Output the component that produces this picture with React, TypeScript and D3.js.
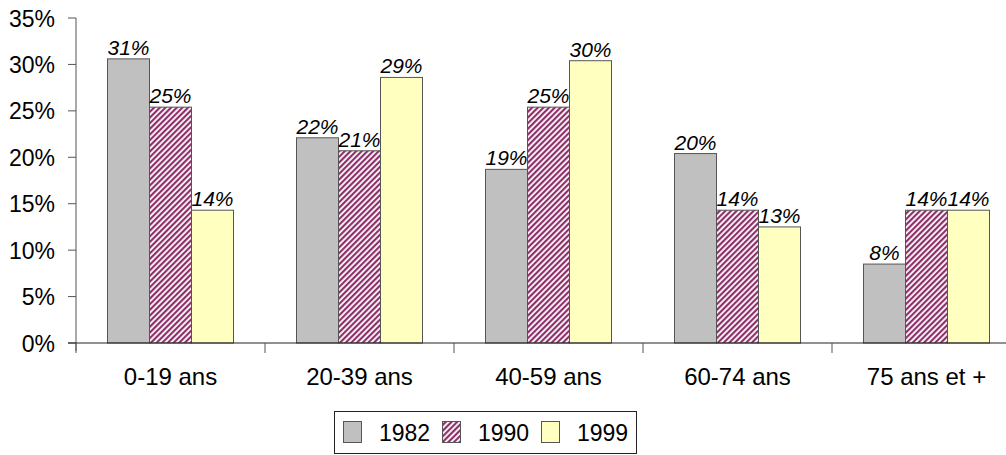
import React from 'react';
import * as d3 from 'd3';

const categories = ['0-19 ans', '20-39 ans', '40-59 ans', '60-74 ans', '75 ans et +'];
const years = ['1982', '1990', '1999'];
const values1982 = [30.6, 22.1, 18.7, 20.4, 8.5];
const values1990 = [25.4, 20.7, 25.4, 14.3, 14.3];
const values1999 = [14.3, 28.6, 30.4, 12.5, 14.3];
const labels1982 = ['31%', '22%', '19%', '20%', '8%'];
const labels1990 = ['25%', '21%', '25%', '14%', '14%'];
const labels1999 = ['14%', '29%', '30%', '13%', '14%'];
const yTicks = [0, 5, 10, 15, 20, 25, 30, 35];

const series = [values1982, values1990, values1999];
const seriesLabels = [labels1982, labels1990, labels1999];
const fills = ['#C0C0C0', 'url(#hatch)', '#FFFFC0'];

const W = 1006;
const H = 455;
const left = 76;
const top = 18;
const bottom = 343;

const App: React.FC = () => {
    const x = d3.scaleBand<string>()
        .domain(categories)
        .range([left, left + 189 * 5])
        .paddingInner(1 / 3)
        .paddingOuter(1 / 6);
    const xs = d3.scaleBand<string>().domain(years).range([0, x.bandwidth()]);
    const y = d3.scaleLinear().domain([0, 35]).range([bottom, top]);
    const step = x.step();
    const font = 'Liberation Sans, Arial, sans-serif';

    return (
        <svg width={W} height={H} style={{ position: 'absolute', left: 0, top: 0 }} fontFamily={font}>
            <defs>
                <pattern id="hatch" width="4" height="4" patternUnits="userSpaceOnUse" patternTransform="rotate(45)">
                    <rect width="4" height="4" fill="#fff" />
                    <rect width="2.2" height="4" fill="#8E2F6A" />
                </pattern>
            </defs>

            {/* bars */}
            {categories.map((c, i) => (
                <g key={c} transform={`translate(${x(c)},0)`}>
                    {years.map((yr, s) => (
                        <g key={yr}>
                            <rect
                                x={xs(yr)}
                                y={y(series[s][i])}
                                width={xs.bandwidth()}
                                height={bottom - y(series[s][i])}
                                fill={fills[s]}
                                stroke="#555"
                                strokeWidth={1}
                            />
                            <text
                                x={(xs(yr) as number) + xs.bandwidth() / 2}
                                y={y(series[s][i]) - 4}
                                textAnchor="middle"
                                fontSize={21}
                                fontStyle="italic"
                            >{seriesLabels[s][i]}</text>
                        </g>
                    ))}
                </g>
            ))}

            {/* y axis */}
            <line x1={left} x2={left} y1={top} y2={bottom + 8} stroke="#555" />
            {yTicks.map(t => (
                <g key={t}>
                    <line x1={left - 8} x2={left} y1={y(t)} y2={y(t)} stroke="#555" />
                    <text x={55} y={y(t) + 8.5} textAnchor="end" fontSize={23}>{t}%</text>
                </g>
            ))}

            {/* x axis */}
            <line x1={left - 8} x2={W} y1={bottom} y2={bottom} stroke="#222" />
            {d3.range(categories.length + 1).map(i => (
                <line key={i} x1={left + i * step} x2={left + i * step} y1={bottom} y2={bottom + 10} stroke="#555" />
            ))}
            {categories.map(c => (
                <text key={c} x={(x(c) as number) + x.bandwidth() / 2} y={385} textAnchor="middle" fontSize={24}>{c}</text>
            ))}

            {/* legend */}
            <rect x={334.5} y={411.5} width={302} height={42} fill="#fff" stroke="#222" />
            {years.map((yr, s) => (
                <g key={yr} transform={`translate(${343 + s * 99},0)`}>
                    <rect x={0.5} y={421.5} width={18} height={21} fill={fills[s]} stroke="#555" />
                    <text x={36} y={441} fontSize={23}>{yr}</text>
                </g>
            ))}
        </svg>
    );
};

export default App;
